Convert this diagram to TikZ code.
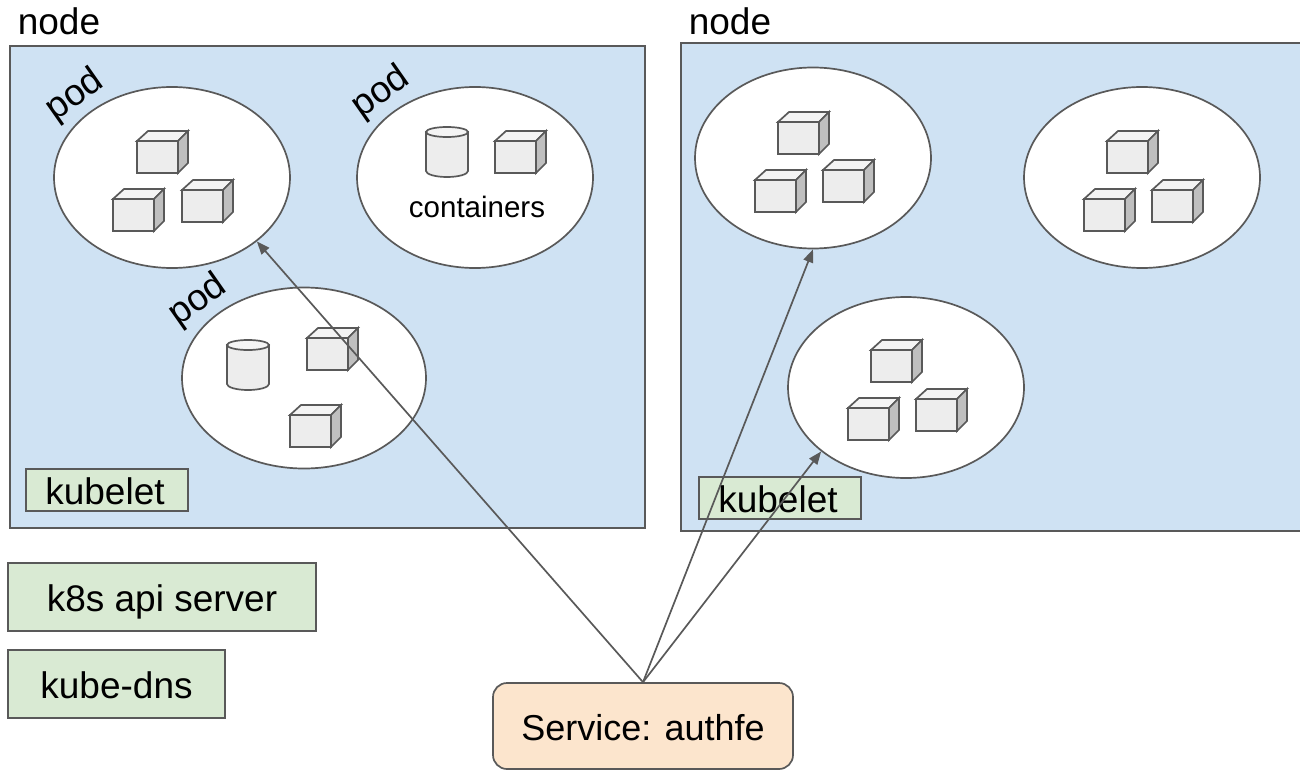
\documentclass[tikz,border=0pt]{standalone}
\usepackage{fontspec}
\setmainfont{Liberation Sans}
\usetikzlibrary{arrows.meta,shapes.geometric}
\definecolor{nodeblue}{HTML}{CFE2F3}
\definecolor{boxgreen}{HTML}{D9EAD3}
\definecolor{svcorange}{HTML}{FCE5CD}
\definecolor{edgegray}{HTML}{595959}
\colorlet{cubefront}{black!7}
\colorlet{cubeside}{black!25}
\tikzset{
  cube/.pic={
    \draw[shapeline,fill=cubefront!60!white] (0,0) -- (11,-10) -- (51,-10) -- (41,0) -- cycle;
    \draw[shapeline,fill=cubeside] (41,0) -- (51,-10) -- (51,22) -- (41,32) -- cycle;
    \draw[shapeline,fill=cubefront] (0,0) rectangle (41,32);
  },
  drum/.pic={
    \draw[shapeline,fill=cubefront] (0,0) -- (0,39) arc[start angle=180,end angle=0,x radius=21,y radius=6] -- (42,0) -- cycle;
    \draw[shapeline,fill=cubefront!60!white] (21,0) ellipse[x radius=21,y radius=5];
  }
}
\begin{document}
\begin{tikzpicture}[x=1pt,y=-1pt,
shapeline/.style={draw=edgegray,line width=1.7pt},
hostbox/.style={shape=rectangle,shapeline,fill=nodeblue,inner sep=0pt},
podcircle/.style={shape=ellipse,shapeline,fill=white,inner sep=0pt,minimum width=236pt,minimum height=181pt},
greenbox/.style={shape=rectangle,shapeline,fill=boxgreen,inner sep=0pt,text height=28pt,text depth=0pt,font=\fontsize{37}{40}\selectfont},
bigtext/.style={inner sep=0pt,font=\fontsize{37}{40}\selectfont},
podtext/.style={bigtext,rotate=35},
smalltext/.style={inner sep=0pt,font=\fontsize{29.5}{32}\selectfont},
link/.style={edgegray,line width=1.7pt,-{Triangle[length=13pt,width=10pt]}}
]
\useasboundingbox (0,0) rectangle (1300,770);

\node[bigtext] (lefttitle) at (59,21) {node};
\node[bigtext] (righttitle) at (730,21) {node};
\node[hostbox,minimum width=635pt,minimum height=482pt] (lefthost) at (327.5,287) {};
\node[hostbox,minimum width=622pt,minimum height=488pt] (righthost) at (992,287) {};

\node[podcircle] (podA) at (172,177.5) {};
\node[podcircle] (podB) at (475,177.5) {};
\node[podcircle,minimum width=244pt] (podC) at (304,378) {};
\node[podcircle] (podD) at (813,158) {};
\node[podcircle] (podE) at (1142,177.5) {};
\node[podcircle] (podF) at (906,387.5) {};

\node[podtext] (podlabelA) at (75,96) {pod};
\node[podtext] (podlabelB) at (381,93) {pod};
\node[podtext] (podlabelC) at (198,301) {pod};

\pic at (137,141) {cube};
\pic at (113,199) {cube};
\pic at (182,190) {cube};
\pic at (426,132) {drum};
\pic at (495,141) {cube};
\node[smalltext] (contlabel) at (477,207) {containers};
\pic at (227,345) {drum};
\pic at (307,338) {cube};
\pic at (290,415) {cube};
\pic at (778,122) {cube};
\pic at (755,180) {cube};
\pic at (823,170) {cube};
\pic at (1107,141) {cube};
\pic at (1084,199) {cube};
\pic at (1152,190) {cube};
\pic at (871,350) {cube};
\pic at (848,408) {cube};
\pic at (916,399) {cube};

\node[greenbox,minimum width=162pt,minimum height=42pt] (kubeletA) at (107,490) {kubelet\kern4pt};
\node[greenbox,minimum width=162pt,minimum height=42pt] (kubeletB) at (780,498) {kubelet\kern4pt};
\node[greenbox,minimum width=308pt,minimum height=68pt] (apiserver) at (162,597) {k8s api server};
\node[greenbox,minimum width=217pt,minimum height=68pt] (kubedns) at (116.5,684) {kube-dns};
\node[greenbox,fill=svcorange,rounded corners=14pt,minimum width=300pt,minimum height=86pt,font=\fontsize{36}{40}\selectfont] (authfe) at (643,726) {Service: authfe};

\draw[link] (authfe.north) -- (podA.-37);
\draw[link] (authfe.north) -- (podD.south);
\draw[link] (authfe.north) -- (podF.217);
\end{tikzpicture}
\end{document}
